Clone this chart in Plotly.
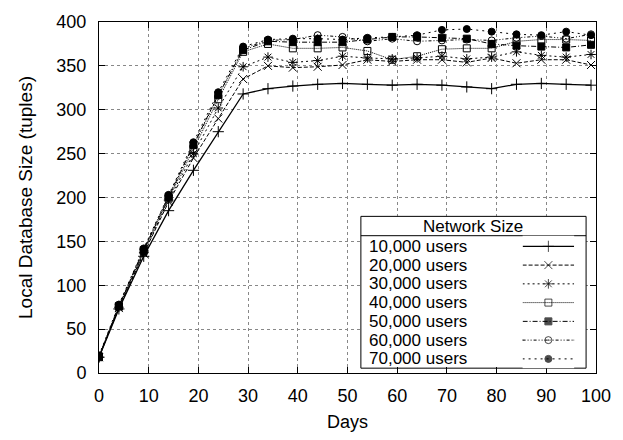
import plotly.graph_objects as go

# ---------------- data ----------------
days = [0, 4, 9, 14, 19, 24, 29, 34, 39, 44, 49, 54, 59, 64, 69, 74, 79, 84, 89, 94, 99]

series_names = ["10,000 users", "20,000 users", "30,000 users", "40,000 users",
                "50,000 users", "60,000 users", "70,000 users"]

users_10k = [18, 73, 133, 185, 231, 275, 318, 324, 327, 329, 330, 329, 328, 329, 328, 326, 324, 329, 330, 329, 328]
users_20k = [18, 74, 136, 195, 245, 290, 335, 350, 348, 349, 351, 357, 355, 357, 357, 354, 359, 353, 357, 357, 351]
users_30k = [18, 75, 137, 197, 250, 302, 349, 360, 354, 356, 361, 359, 358, 359, 361, 358, 360, 366, 362, 360, 363]
users_40k = [19, 76, 139, 199, 255, 312, 366, 375, 370, 370, 371, 367, 357, 361, 369, 370, 370, 378, 380, 380, 379]
users_50k = [18, 76, 140, 201, 260, 317, 368, 378, 377, 377, 377, 380, 383, 383, 382, 381, 375, 373, 372, 371, 374]
users_60k = [19, 77, 141, 202, 259, 316, 370, 379, 380, 385, 383, 378, 381, 378, 379, 380, 379, 382, 384, 381, 386]
users_70k = [20, 78, 142, 203, 263, 320, 372, 380, 381, 381, 380, 382, 383, 385, 391, 392, 389, 386, 385, 389, 385]

all_series = [users_10k, users_20k, users_30k, users_40k, users_50k, users_60k, users_70k]

x_ticks = list(range(0, 101, 10))
y_ticks = list(range(0, 401, 50))

# ---------------- styles ----------------
dashes = ["solid", "4px,2px", "2px,3px", "1px,1px", "5px,2px,1px,2px", "3px,2px,1px,2px,1px,2px", "2px,4px"]
widths = [1.3, 1, 1, 1, 1, 1, 1]
symbols = ["cross-thin", "x-thin", "asterisk", "square-open", "square", "circle-open-dot", "circle"]
msizes = [8, 8, 8, 7, 7, 7, 7]

FONT = "Liberation Sans, Arial, Helvetica, sans-serif"
W, H = 623, 440
L, R, T, B = 99, 23, 17, 60
PW, PH = W - L - R, H - T - B


def px(x):
    return (x - L) / PW


def py(y):
    return (H - B - y) / PH


fig = go.Figure()

for name, vals, dsh, lw, sym, ms in zip(series_names, all_series, dashes, widths, symbols, msizes):
    fig.add_trace(go.Scatter(
        x=days, y=vals, name=name, mode="lines+markers",
        line=dict(color="black", width=lw, dash=dsh),
        marker=dict(symbol=sym, size=ms, color="black", line=dict(color="black", width=1)),
        showlegend=False,
    ))

# ---------------- custom legend (text left, sample right) ----------------
row_top_px, row_step = 249, 19.4
y2_top = (238 - row_top_px) / row_step
y2_bot = (375 - row_top_px) / row_step

for i, (name, dsh, lw, sym, ms) in enumerate(zip(series_names, dashes, widths, symbols, msizes)):
    fig.add_trace(go.Scatter(
        x=[0, 0.5, 1], y=[i, i, i], mode="lines+markers",
        xaxis="x2", yaxis="y2",
        line=dict(color="black", width=lw, dash=dsh),
        marker=dict(symbol=sym, size=[0, ms, 0], color="black", line=dict(color="black", width=1)),
        showlegend=False, hoverinfo="skip",
    ))
    fig.add_annotation(x=px(369), xref="paper", y=i, yref="y2", text=name,
                       showarrow=False, xanchor="left", yanchor="middle",
                       font=dict(family=FONT, size=17, color="black"))

fig.add_annotation(x=px(476.5), xref="paper", y=py(228), yref="paper", text="Network Size",
                   showarrow=False, xanchor="center", yanchor="middle",
                   font=dict(family=FONT, size=17, color="black"))


# legend box and separator (main-axis coordinates -> drawn between grid and traces)
def dx(p):
    return (p - L) / PW * 100


def dy(p):
    return (H - B - p) / PH * 400


fig.add_shape(type="rect", xref="x", yref="y", x0=dx(363), x1=dx(590), y0=dy(375), y1=dy(218),
              line=dict(color="black", width=1), fillcolor="white", layer="between")
fig.add_shape(type="line", xref="x", yref="y", x0=dx(363), x1=dx(590), y0=dy(238), y1=dy(238),
              line=dict(color="black", width=1), layer="between")

axis_common = dict(
    showline=True, linecolor="black", linewidth=1, mirror="ticks",
    ticks="inside", ticklen=6, tickcolor="black", tickwidth=1,
    showgrid=True, gridcolor="#888888", griddash="dot", gridwidth=1,
    zeroline=False, tickfont=dict(family=FONT, size=18, color="black"),
)

fig.update_layout(
    width=W, height=H,
    margin=dict(l=L, r=R, t=T, b=B),
    paper_bgcolor="white", plot_bgcolor="white",
    font=dict(family=FONT, size=18, color="black"),
    xaxis=dict(range=[0, 100], tickvals=x_ticks, ticklabelstandoff=6,
               title=dict(text="Days", standoff=10, font=dict(family=FONT, size=18)),
               **axis_common),
    yaxis=dict(range=[0, 400], tickvals=y_ticks, ticklabelstandoff=8,
               title=dict(text="Local Database Size (tuples)", standoff=18, font=dict(family=FONT, size=19)),
               **axis_common),
    xaxis2=dict(domain=[px(526), px(578)], range=[0, 1], visible=False, anchor="y2", fixedrange=True),
    yaxis2=dict(domain=[py(375), py(238)], range=[y2_bot, y2_top], visible=False, anchor="x2", fixedrange=True),
)

fig.write_html("out.html")
